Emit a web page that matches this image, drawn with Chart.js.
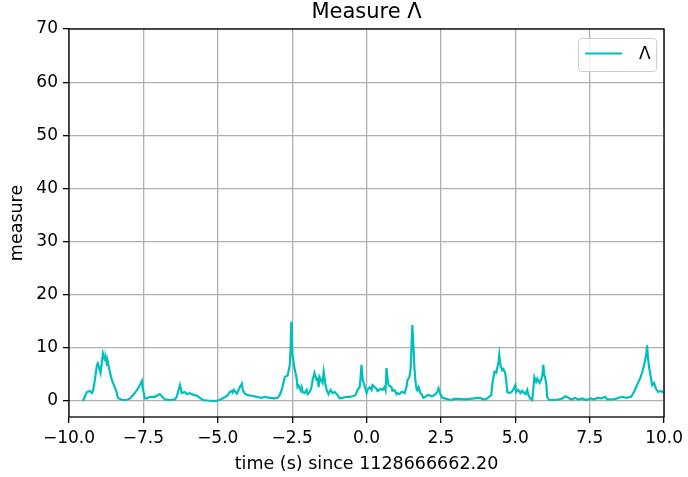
<!DOCTYPE html>
<html>
<head>
<meta charset="utf-8">
<script src="https://cdn.jsdelivr.net/npm/chart.js@4.4.1/dist/chart.umd.min.js"></script>
<style>
  html, body { margin: 0; padding: 0; background: #fff; }
</style>
</head>
<body>
<canvas id="chart" width="688" height="477"></canvas>
<script>
const times = [
  -9.53, -9.40, -9.30, -9.23, -9.19, -9.13, -9.06, -9.03, -8.94, -8.86,
  -8.79, -8.76, -8.72, -8.69, -8.62, -8.56, -8.52, -8.46, -8.39, -8.36,
  -8.22, -8.05, -7.95, -7.85, -7.72, -7.62, -7.55, -7.52, -7.45, -7.38,
  -7.28, -7.11, -6.95, -6.88, -6.78, -6.61, -6.44, -6.38, -6.27, -6.21,
  -6.11, -6.04, -5.94, -5.84, -5.70, -5.60, -5.50, -5.34, -5.10, -5.00,
  -4.87, -4.77, -4.66, -4.60, -4.53, -4.50, -4.46, -4.36, -4.26, -4.19,
  -4.16, -4.09, -3.99, -3.86, -3.69, -3.52, -3.42, -3.26, -3.09, -2.99,
  -2.92, -2.85, -2.82, -2.75, -2.68, -2.65, -2.58, -2.55, -2.53, -2.51,
  -2.49, -2.45, -2.42, -2.35, -2.32, -2.28, -2.21, -2.18, -2.15, -2.08,
  -2.01, -1.98, -1.91, -1.85, -1.81, -1.75, -1.68, -1.64, -1.61, -1.58,
  -1.54, -1.48, -1.44, -1.38, -1.34, -1.28, -1.21, -1.14, -1.07, -0.97,
  -0.91, -0.81, -0.67, -0.57, -0.47, -0.37, -0.30, -0.23, -0.20, -0.17,
  -0.13, -0.07, 0.00, 0.03, 0.10, 0.17, 0.20, 0.34, 0.37, 0.47,
  0.54, 0.60, 0.64, 0.67, 0.71, 0.74, 0.84, 0.87, 0.94, 1.01,
  1.04, 1.11, 1.17, 1.21, 1.28, 1.34, 1.38, 1.44, 1.48, 1.51,
  1.54, 1.58, 1.61, 1.64, 1.68, 1.71, 1.75, 1.81, 1.85, 1.91,
  1.98, 2.05, 2.11, 2.18, 2.28, 2.38, 2.42, 2.48, 2.55, 2.68,
  2.85, 2.95, 3.12, 3.29, 3.46, 3.62, 3.73, 3.86, 3.96, 4.06,
  4.19, 4.23, 4.30, 4.36, 4.40, 4.43, 4.46, 4.50, 4.56, 4.60,
  4.66, 4.70, 4.73, 4.80, 4.87, 4.93, 5.00, 5.03, 5.10, 5.17,
  5.23, 5.34, 5.40, 5.44, 5.50, 5.57, 5.60, 5.64, 5.70, 5.74,
  5.81, 5.87, 5.91, 5.94, 5.97, 6.04, 6.07, 6.14, 6.31, 6.48,
  6.58, 6.68, 6.75, 6.88, 7.01, 7.11, 7.25, 7.38, 7.55, 7.65,
  7.75, 7.89, 8.02, 8.09, 8.26, 8.42, 8.59, 8.73, 8.89, 8.99,
  9.09, 9.20, 9.26, 9.33, 9.40, 9.43, 9.46, 9.50, 9.56, 9.60,
  9.66, 9.73, 9.80, 9.90, 10.00
];
const measure = [
  0.0, 1.7, 1.9, 1.5, 2.0, 4.0, 6.8, 7.1, 5.3, 9.0,
  7.7, 7.9, 6.8, 7.2, 5.3, 4.0, 3.4, 2.6, 1.5, 0.6,
  0.2, 0.2, 0.5, 1.1, 2.0, 3.0, 3.8, 2.3, 0.5, 0.5,
  0.8, 0.8, 1.3, 0.9, 0.3, 0.2, 0.3, 0.8, 3.0, 1.5,
  1.7, 1.3, 1.5, 1.2, 1.0, 0.6, 0.2, 0.1, 0.0, 0.1,
  0.4, 0.7, 1.1, 1.7, 1.9, 1.6, 2.1, 1.4, 2.6, 3.3,
  2.1, 1.4, 1.1, 1.0, 0.8, 0.6, 0.8, 0.6, 0.5, 0.6,
  1.1, 2.1, 2.8, 4.5, 4.7, 4.8, 6.8, 10.0, 14.9, 12.4,
  8.7, 7.3, 6.2, 4.3, 2.6, 2.9, 2.0, 2.6, 1.7, 1.5,
  2.1, 1.3, 1.7, 2.6, 4.0, 5.3, 4.0, 4.2, 2.6, 4.5,
  4.0, 3.4, 5.5, 3.1, 2.1, 1.3, 2.1, 1.5, 1.7, 1.1,
  0.5, 0.6, 0.8, 0.8, 0.9, 1.1, 2.1, 2.6, 4.5, 6.8,
  4.0, 3.0, 1.5, 2.1, 2.6, 2.1, 3.0, 2.3, 1.9, 2.3,
  2.1, 2.6, 2.0, 6.2, 4.0, 3.0, 2.6, 1.9, 2.1, 1.3,
  1.5, 1.3, 1.7, 1.7, 1.5, 2.6, 4.0, 4.5, 6.0, 10.0,
  14.3, 10.0, 6.2, 4.0, 2.3, 2.0, 2.6, 1.5, 1.3, 0.6,
  0.8, 1.1, 1.1, 0.9, 1.1, 1.7, 2.4, 1.3, 0.6, 0.4,
  0.2, 0.4, 0.4, 0.3, 0.4, 0.5, 0.6, 0.5, 0.3, 0.5,
  1.1, 3.3, 5.5, 5.3, 6.4, 7.1, 8.7, 6.8, 5.8, 6.0,
  5.3, 3.5, 1.7, 1.5, 1.7, 2.1, 3.0, 1.7, 2.1, 1.5,
  1.9, 1.3, 2.1, 1.1, 0.5, 0.2, 2.0, 4.5, 3.6, 4.2,
  3.4, 4.0, 4.9, 6.8, 5.1, 3.4, 0.8, 0.2, 0.2, 0.3,
  0.5, 0.9, 0.7, 0.3, 0.6, 0.3, 0.5, 0.2, 0.5, 0.3,
  0.6, 0.5, 0.8, 0.3, 0.3, 0.5, 0.8, 0.6, 0.8, 1.7,
  3.0, 4.3, 5.3, 6.8, 8.7, 10.5, 8.1, 6.2, 4.3, 3.0,
  3.4, 2.3, 1.7, 1.9, 1.5
];
const xTicks = [-10, -7.5, -5, -2.5, 0, 2.5, 5, 7.5, 10];
const yTicks = [0, 10, 20, 30, 40, 50, 60, 70];
const seriesName = 'Λ';

const FONT = 'DejaVu Sans';
const LINE_COLOR = '#00bfbf';
const TXT = 17;
const LBL = 17.5;

Chart.defaults.font.family = FONT;
Chart.defaults.color = '#000';

// centre the title over the plot area, not the whole canvas
const titleOverAxes = {
  id: 'titleOverAxes',
  afterLayout(chart) {
    const t = chart.titleBlock;
    if (!t) return;
    t.left = chart.chartArea.left;
    t.right = chart.chartArea.right;
    t.width = t.right - t.left;
  }
};

// full black frame round the plot area
const frame = {
  id: 'frame',
  afterDraw(chart) {
    const { ctx, chartArea: a } = chart;
    ctx.save();
    ctx.strokeStyle = '#000';
    ctx.lineWidth = 1.3;
    ctx.strokeRect(a.left, a.top, a.right - a.left, a.bottom - a.top);
    ctx.restore();
  }
};

// matplotlib-like legend box in the upper right corner
const legendBox = {
  id: 'legendBox',
  afterDatasetsDraw(chart) {
    const { ctx, chartArea: a } = chart;
    const w = 78, h = 33;
    const x = a.right - 8 - w, y = a.top + 9;
    ctx.save();
    ctx.beginPath();
    ctx.roundRect(x + 0.5, y + 0.5, w, h, 3);
    ctx.fillStyle = 'rgba(255,255,255,0.8)';
    ctx.fill();
    ctx.strokeStyle = '#cccccc';
    ctx.lineWidth = 1;
    ctx.stroke();
    ctx.beginPath();
    ctx.moveTo(x + 7, y + 15.5);
    ctx.lineTo(x + 44, y + 15.5);
    ctx.strokeStyle = LINE_COLOR;
    ctx.lineWidth = 2.2;
    ctx.stroke();
    ctx.fillStyle = '#000';
    ctx.font = TXT + 'px "' + FONT + '"';
    ctx.textAlign = 'left';
    ctx.textBaseline = 'middle';
    ctx.fillText(seriesName, x + 61, y + 17);
    ctx.restore();
  }
};

const fmtX = v => (v < 0 ? '\u2212' : '') + Math.abs(v).toFixed(1);

new Chart(document.getElementById('chart'), {
  type: 'line',
  data: {
    datasets: [{
      label: seriesName,
      data: times.map((t, i) => ({ x: t, y: measure[i] })),
      borderColor: LINE_COLOR,
      borderWidth: 2.2,
      pointRadius: 0,
      tension: 0,
      fill: false
    }]
  },
  options: {
    responsive: false,
    animation: false,
    devicePixelRatio: 1,
    layout: { padding: { left: 0, right: 23, top: 0, bottom: 0 } },
    plugins: {
      legend: { display: false },
      tooltip: { enabled: false },
      title: {
        display: true,
        text: 'Measure Λ',
        color: '#000',
        font: { size: 21, weight: 'normal', family: FONT },
        padding: { top: 0, bottom: 3.8 }
      }
    },
    scales: {
      x: {
        type: 'linear',
        min: -10,
        max: 10,
        afterBuildTicks: s => { s.ticks = xTicks.map(v => ({ value: v })); },
        afterFit: s => { s.height = 60; },
        grid: { color: '#b0b0b0', lineWidth: 1.3, tickColor: '#000', tickLength: 6 },
        border: { display: false },
        ticks: {
          color: '#000',
          font: { size: TXT },
          padding: 5,
          maxRotation: 0,
          callback: v => fmtX(v)
        },
        title: {
          display: true,
          text: 'time (s) since 1128666662.20',
          color: '#000',
          font: { size: LBL },
          padding: { top: 0, bottom: 2 }
        }
      },
      y: {
        type: 'linear',
        min: -3,
        max: 70,
        afterBuildTicks: s => { s.ticks = yTicks.map(v => ({ value: v })); },
        afterFit: s => { s.width = 69; },
        grid: { color: '#b0b0b0', lineWidth: 1.3, tickColor: '#000', tickLength: 6 },
        border: { display: false },
        ticks: {
          color: '#000',
          font: { size: TXT },
          padding: 5,
          callback: v => String(v)
        },
        title: {
          display: true,
          text: 'measure',
          color: '#000',
          font: { size: LBL },
          padding: { top: 7, bottom: 0 }
        }
      }
    }
  },
  plugins: [titleOverAxes, frame, legendBox]
});
</script>
</body>
</html>
